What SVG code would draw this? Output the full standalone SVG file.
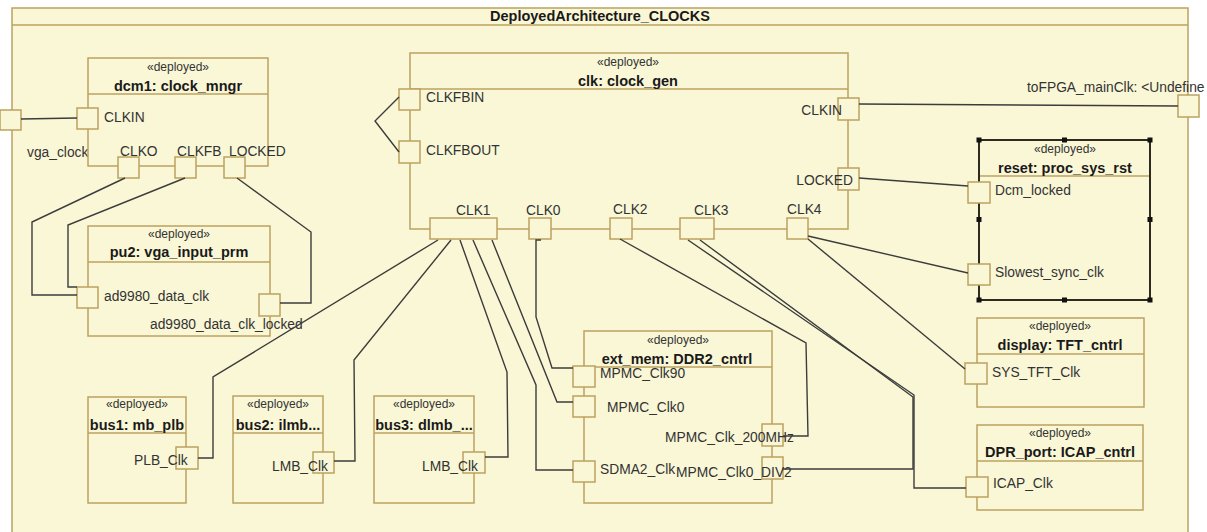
<svg xmlns="http://www.w3.org/2000/svg" width="1207" height="532" viewBox="0 0 1207 532">
<style>
.frame{fill:#FAF7D6;stroke:#BCA262;stroke-width:1.5}
.node{fill:#FAF7D6;stroke:#BCA262;stroke-width:1.5}
.sel{fill:#FAF7D6;stroke:#2E2A20;stroke-width:2}
.hdr{stroke:#BCA262;stroke-width:1.5}
.port{fill:#FAF7D6;stroke:#BCA262;stroke-width:1.5}
.h{fill:#111}
.st{font-family:"Liberation Sans",Arial,sans-serif;font-size:12px;fill:#333;text-anchor:middle}
.nm{font-family:"Liberation Sans",Arial,sans-serif;font-size:14.5px;font-weight:bold;fill:#1a1a1a;text-anchor:middle}
.pl{font-family:"Liberation Sans",Arial,sans-serif;font-size:13.8px;fill:#333}
.ttl{font-family:"Liberation Sans",Arial,sans-serif;font-size:14.5px;font-weight:bold;fill:#1a1a1a;text-anchor:middle}
.c{fill:none;stroke:#3C3C3C;stroke-width:1.4}
</style>
<rect x="0" y="0" width="1207" height="532" fill="#ffffff"/>
<g id="frame">
<rect class="frame" x="12" y="8" width="1176" height="540"/>
<line class="hdr" x1="12" y1="25" x2="1188" y2="25"/>
<text class="ttl" x="600" y="21">DeployedArchitecture_CLOCKS</text>
</g>
<g id="ext_vga_clock">
<rect class="port" x="0" y="110" width="21" height="20"/>
<text class="pl" x="27" y="157">vga_clock</text>
</g>
<g id="ext_toFPGA">
<rect class="port" x="1178" y="95" width="21" height="22"/>
<text class="pl" x="1027" y="92">toFPGA_mainClk: &lt;Undefine</text>
</g>
<g id="dcm1">
<rect class="node" x="88" y="58" width="180" height="108"/>
<line class="hdr" x1="88" y1="94" x2="268" y2="94"/>
<text class="st" x="178" y="71">«deployed»</text>
<text class="nm" x="178" y="91">dcm1: clock_mngr</text>
<rect class="port" x="77" y="108" width="21" height="21"/>
<text class="pl" x="104" y="122">CLKIN</text>
<rect class="port" x="118" y="157" width="21" height="21"/>
<text class="pl" x="120" y="156">CLKO</text>
<rect class="port" x="175" y="157" width="21" height="21"/>
<text class="pl" x="177" y="156">CLKFB</text>
<rect class="port" x="224" y="157" width="21" height="21"/>
<text class="pl" x="229" y="156">LOCKED</text>
</g>
<g id="pu2">
<rect class="node" x="88" y="226" width="182" height="110"/>
<line class="hdr" x1="88" y1="262" x2="270" y2="262"/>
<text class="st" x="179" y="238">«deployed»</text>
<text class="nm" x="179" y="257">pu2: vga_input_prm</text>
<rect class="port" x="77" y="287" width="21" height="21"/>
<text class="pl" x="104" y="301">ad9980_data_clk</text>
<rect class="port" x="259" y="294" width="21" height="22"/>
<text class="pl" x="150" y="329">ad9980_data_clk_locked</text>
</g>
<g id="clk">
<rect class="node" x="410" y="53" width="438" height="176"/>
<line class="hdr" x1="410" y1="89" x2="848" y2="89"/>
<text class="st" x="628" y="66">«deployed»</text>
<text class="nm" x="628" y="86">clk: clock_gen</text>
<rect class="port" x="399" y="89" width="21" height="21"/>
<text class="pl" x="426" y="102">CLKFBIN</text>
<rect class="port" x="399" y="141" width="21" height="22"/>
<text class="pl" x="426" y="155">CLKFBOUT</text>
<rect class="port" x="838" y="98" width="21" height="22"/>
<text class="pl" x="842" y="115" text-anchor="end">CLKIN</text>
<rect class="port" x="838" y="168" width="21" height="22"/>
<text class="pl" x="853" y="185" text-anchor="end">LOCKED</text>
<rect class="port" x="430" y="218" width="67" height="21"/>
<text class="pl" x="456" y="215">CLK1</text>
<rect class="port" x="529" y="218" width="22" height="21"/>
<text class="pl" x="526" y="215">CLK0</text>
<rect class="port" x="610" y="218" width="22" height="21"/>
<text class="pl" x="613" y="214">CLK2</text>
<rect class="port" x="680" y="218" width="34" height="21"/>
<text class="pl" x="694" y="215">CLK3</text>
<rect class="port" x="787" y="218" width="21" height="21"/>
<text class="pl" x="787" y="214">CLK4</text>
</g>
<g id="reset">
<rect class="sel" x="979" y="140" width="171" height="160"/>
<line class="hdr" x1="980" y1="176" x2="1149" y2="176"/>
<text class="st" x="1065" y="153">«deployed»</text>
<text class="nm" x="1065" y="173">reset: proc_sys_rst</text>
<rect class="port" x="968" y="182" width="22" height="21"/>
<text class="pl" x="995" y="195">Dcm_locked</text>
<rect class="port" x="968" y="264" width="22" height="21"/>
<text class="pl" x="995" y="277">Slowest_sync_clk</text>
<rect class="h" x="976.5" y="137.5" width="5" height="5"/>
<rect class="h" x="1062" y="137.5" width="5" height="5"/>
<rect class="h" x="1147.5" y="137.5" width="5" height="5"/>
<rect class="h" x="976.5" y="217" width="5" height="5"/>
<rect class="h" x="1147.5" y="217" width="5" height="5"/>
<rect class="h" x="976.5" y="297.5" width="5" height="5"/>
<rect class="h" x="1062" y="297.5" width="5" height="5"/>
<rect class="h" x="1147.5" y="297.5" width="5" height="5"/>
</g>
<g id="display">
<rect class="node" x="977" y="318" width="167" height="89"/>
<line class="hdr" x1="977" y1="354" x2="1144" y2="354"/>
<text class="st" x="1060" y="330">«deployed»</text>
<text class="nm" x="1060" y="350">display: TFT_cntrl</text>
<rect class="port" x="965" y="363" width="22" height="21"/>
<text class="pl" x="992" y="377">SYS_TFT_Clk</text>
</g>
<g id="dpr_port">
<rect class="node" x="977" y="425" width="166" height="85"/>
<line class="hdr" x1="977" y1="461" x2="1143" y2="461"/>
<text class="st" x="1060" y="437">«deployed»</text>
<text class="nm" x="1060" y="457">DPR_port: ICAP_cntrl</text>
<rect class="port" x="966" y="477" width="22" height="20"/>
<text class="pl" x="993" y="488">ICAP_Clk</text>
</g>
<g id="ext_mem">
<rect class="node" x="584" y="331" width="188" height="172"/>
<line class="hdr" x1="584" y1="367" x2="772" y2="367"/>
<text class="st" x="678" y="344">«deployed»</text>
<text class="nm" x="677" y="364">ext_mem: DDR2_cntrl</text>
<rect class="port" x="573" y="366" width="22" height="21"/>
<text class="pl" x="600" y="378">MPMC_Clk90</text>
<rect class="port" x="573" y="396" width="22" height="21"/>
<text class="pl" x="607" y="412">MPMC_Clk0</text>
<rect class="port" x="762" y="424" width="21" height="22"/>
<text class="pl" x="665" y="442">MPMC_Clk_200MHz</text>
<rect class="port" x="573" y="461" width="22" height="21"/>
<text class="pl" x="600" y="474">SDMA2_Clk</text>
<rect class="port" x="762" y="457" width="21" height="22"/>
<text class="pl" x="676" y="477">MPMC_Clk0_DIV2</text>
</g>
<g id="bus1">
<rect class="node" x="88" y="397" width="98" height="106"/>
<line class="hdr" x1="88" y1="433" x2="186" y2="433"/>
<text class="st" x="137" y="408">«deployed»</text>
<text class="nm" x="137" y="430">bus1: mb_plb</text>
<rect class="port" x="176" y="447" width="22" height="22"/>
<text class="pl" x="134" y="465">PLB_Clk</text>
</g>
<g id="bus2">
<rect class="node" x="233" y="396" width="90" height="107"/>
<line class="hdr" x1="233" y1="433" x2="323" y2="433"/>
<text class="st" x="278" y="408">«deployed»</text>
<text class="nm" x="278" y="430">bus2: ilmb...</text>
<rect class="port" x="313" y="452" width="21" height="21"/>
<text class="pl" x="272" y="471">LMB_Clk</text>
</g>
<g id="bus3">
<rect class="node" x="374" y="396" width="100" height="107"/>
<line class="hdr" x1="374" y1="433" x2="474" y2="433"/>
<text class="st" x="424" y="408">«deployed»</text>
<text class="nm" x="424" y="430">bus3: dlmb_...</text>
<rect class="port" x="463" y="452" width="22" height="21"/>
<text class="pl" x="422" y="471">LMB_Clk</text>
</g>
<g id="connectors">
<polyline class="c" points="21,119 77,118"/>
<polyline class="c" points="125,178 32,222 32,295 77,295"/>
<polyline class="c" points="185,178 68,225 68,287 77,287"/>
<polyline class="c" points="237,178 311,232 311,303 280,303"/>
<polyline class="c" points="399,97 375,121 399,152"/>
<polyline class="c" points="859,104 1178,106"/>
<polyline class="c" points="859,178 968,186"/>
<polyline class="c" points="808,236 968,273"/>
<polyline class="c" points="808,239 965,369"/>
<polyline class="c" points="688,240 914,395 914,488 966,488"/>
<polyline class="c" points="700,240 913,397 913,469 783,469"/>
<polyline class="c" points="620,239 806,343 808,436 783,436"/>
<polyline class="c" points="541,240 536,240 536,317 552,368 573,368"/>
<polyline class="c" points="492,240 557,402 573,402"/>
<polyline class="c" points="473,240 536,385 536,470 573,470"/>
<polyline class="c" points="460,240 507,372 508,457 485,457"/>
<polyline class="c" points="451,240 354,360 355,461 334,461"/>
<polyline class="c" points="438,240 213,377 213,458 198,458"/>
</g>
</svg>
